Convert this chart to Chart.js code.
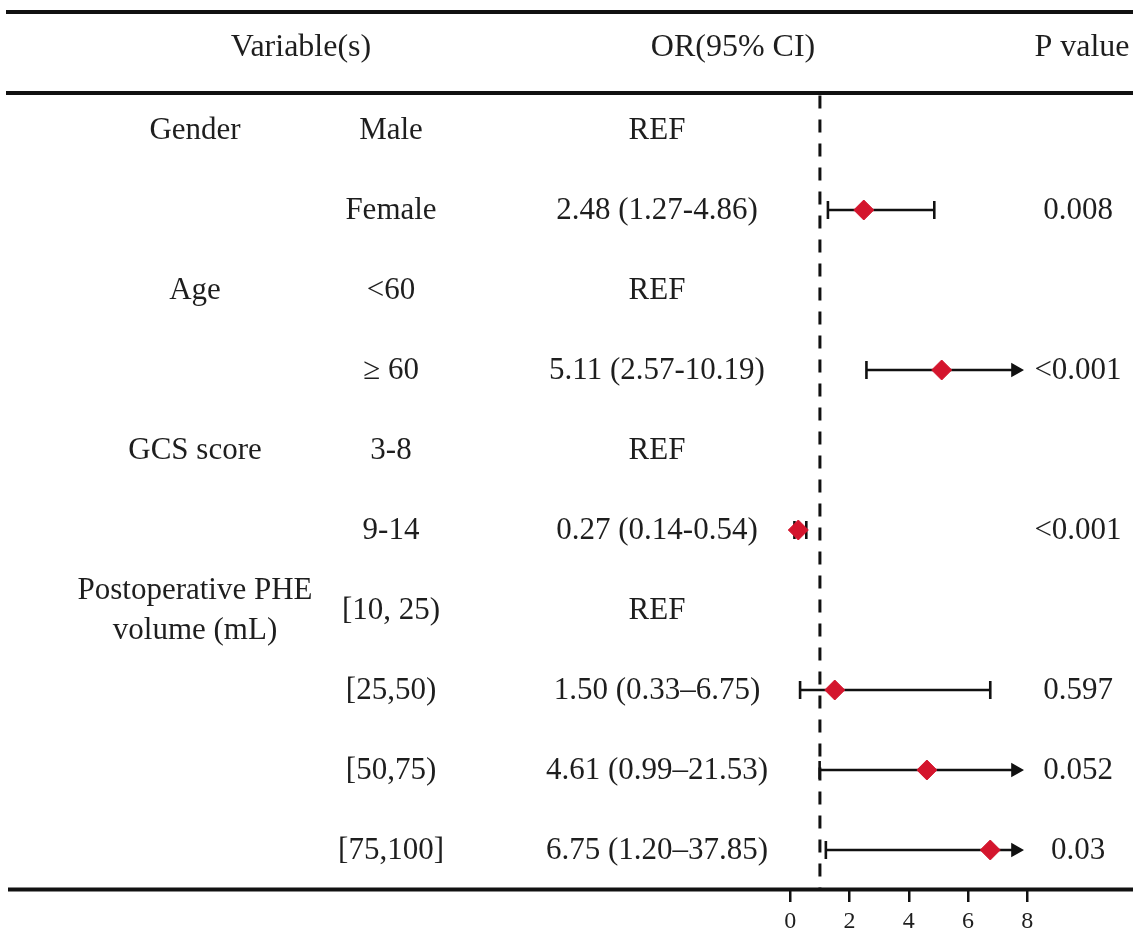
<!DOCTYPE html>
<html>
<head>
<meta charset="utf-8">
<script src="https://cdn.jsdelivr.net/npm/chart.js@4.4.1/dist/chart.umd.min.js"></script>
<style>
  html, body { margin: 0; padding: 0; background: #ffffff; }
  canvas { display: block; }
</style>
</head>
<body>
<canvas id="forest" width="1133" height="930"></canvas>
<script>
// ---- Table content and odds ratios (one entry per row) ----
const headers = ['Variable(s)', 'OR(95% CI)', 'P value'];
const groupLabels = [['Gender'], ['Age'], ['GCS score'], ['Postoperative PHE', 'volume (mL)']];
const groupRows = [0, 2, 4, 6];
const levels = ['Male', 'Female', '<60', '\u2265 60', '3-8', '9-14', '[10, 25)', '[25,50)', '[50,75)', '[75,100]'];
const orText = ['REF', '2.48 (1.27-4.86)', 'REF', '5.11 (2.57-10.19)', 'REF', '0.27 (0.14-0.54)', 'REF',
                '1.50 (0.33\u20136.75)', '4.61 (0.99\u201321.53)', '6.75 (1.20\u201337.85)'];
const orValue = [null, 2.48, null, 5.11, null, 0.27, null, 1.50, 4.61, 6.75];
const ciLow   = [null, 1.27, null, 2.57, null, 0.14, null, 0.33, 0.99, 1.20];
const ciHigh  = [null, 4.86, null, 10.19, null, 0.54, null, 6.75, 21.53, 37.85];
const pValues = ['', '0.008', '', '<0.001', '', '<0.001', '', '0.597', '0.052', '0.03'];
const xTicks = [0, 2, 4, 6, 8];
const refValue = 1;

// ---- Scale geometry ----
const X_MIN = -26.677, X_MAX = 11.568;
const Y_MIN = -0.4625, Y_MAX = 9.4875;
const AXIS_END = xTicks[xTicks.length - 1];
const ARROW_SHAFT_END = 7.6;   // shaft stops here; arrowhead reaches just short of 8

const SERIF = '"Liberation Serif", "Times New Roman", serif';
const TEXT_COLOR = '#1e1e1e';
const RED = '#d4152d';

// Confidence interval segments: one small line dataset per row with an estimate
const ciDatasets = [];
orValue.forEach((v, i) => {
  if (v === null) return;
  const clipped = ciHigh[i] > AXIS_END;
  const hiShown = clipped ? ARROW_SHAFT_END : ciHigh[i];
  ciDatasets.push({
    type: 'scatter',
    showLine: true,
    data: [{ x: ciLow[i], y: i }, { x: hiShown, y: i }],
    borderColor: '#111111',
    borderWidth: 2.6,
    pointStyle: (ctx) => (ctx.dataIndex === 1 && clipped) ? 'triangle' : 'line',
    pointRotation: 90,
    pointRadius: (ctx) => (ctx.dataIndex === 1 && clipped) ? 7 : 9,
    pointBorderWidth: (ctx) => (ctx.dataIndex === 1 && clipped) ? 1.5 : 2.6,
    pointBackgroundColor: '#111111',
    pointBorderColor: '#111111',
    order: 2
  });
});

// Point estimates
const estimatePoints = [];
orValue.forEach((v, i) => { if (v !== null) estimatePoints.push({ x: v, y: i }); });

// Reference line at OR = 1
const refLine = {
  type: 'scatter',
  showLine: true,
  data: [{ x: refValue, y: Y_MIN + 0.03 }, { x: refValue, y: Y_MAX }],
  borderColor: '#111111',
  borderWidth: 3,
  borderDash: [13, 11],
  pointRadius: 0,
  order: 3
};

// Table text, header and rules
const tablePlugin = {
  id: 'tableText',
  afterDraw(chart) {
    const ctx = chart.ctx;
    const ys = chart.scales.y;
    ctx.save();
    ctx.fillStyle = '#111111';
    ctx.fillRect(6, 10, 1127, 4);       // top rule
    ctx.fillRect(6, 91, 1127, 4);       // header rule
    ctx.fillRect(8, 887.5, 1125, 4);    // bottom rule
    ctx.fillStyle = TEXT_COLOR;
    ctx.textAlign = 'center';
    ctx.textBaseline = 'middle';
    ctx.font = '32px ' + SERIF;
    ctx.fillText(headers[0], 301, 48);
    ctx.fillText(headers[1], 733, 48);
    ctx.fillText(headers[2], 1082, 48);

    ctx.font = '31px ' + SERIF;
    groupLabels.forEach((lines, g) => {
      const yc = ys.getPixelForValue(groupRows[g]);
      const lh = 40;
      lines.forEach((t, k) => {
        ctx.fillText(t, 195, yc - (lines.length - 1) * lh / 2 + k * lh + 1);
      });
    });
    levels.forEach((t, i) => {
      const yc = ys.getPixelForValue(i) + 1;
      ctx.fillText(t, 391, yc);
      ctx.fillText(orText[i], 657, yc);
      if (pValues[i]) ctx.fillText(pValues[i], 1078, yc);
    });
    ctx.restore();
  }
};

new Chart(document.getElementById('forest'), {
  type: 'scatter',
  data: {
    datasets: [
      refLine,
      ...ciDatasets,
      {
        type: 'scatter',
        data: estimatePoints,
        pointStyle: 'rectRot',
        pointRadius: 10,
        pointBackgroundColor: RED,
        pointBorderColor: RED,
        pointBorderWidth: 1,
        order: 0
      }
    ]
  },
  options: {
    responsive: false,
    animation: false,
    events: [],
    layout: { autoPadding: false, padding: { top: 93, left: 0, right: 0, bottom: 0 } },
    plugins: { legend: { display: false }, tooltip: { enabled: false } },
    scales: {
      x: {
        type: 'linear',
        min: X_MIN,
        max: X_MAX,
        afterBuildTicks: (scale) => { scale.ticks = xTicks.map(v => ({ value: v })); },
        afterFit: (scale) => {
          scale.height = 41;
          scale.paddingLeft = 0;
          scale.paddingRight = 0;
        },
        border: { display: false },
        grid: {
          drawOnChartArea: false,
          drawTicks: true,
          tickLength: 13,
          color: '#111111',
          lineWidth: 2.5
        },
        ticks: {
          color: TEXT_COLOR,
          font: { family: SERIF, size: 24 },
          padding: 5,
          maxRotation: 0,
          autoSkip: false
        }
      },
      y: {
        type: 'linear',
        display: false,
        reverse: true,
        min: Y_MIN,
        max: Y_MAX
      }
    }
  },
  plugins: [tablePlugin]
});
</script>
</body>
</html>
